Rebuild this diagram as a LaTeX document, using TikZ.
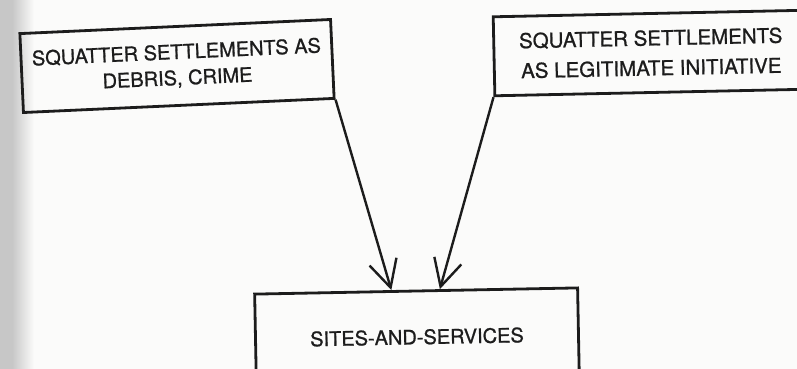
\documentclass[tikz,border=0pt]{standalone}
\usepackage{fontspec}
\setmainfont[FakeBold=0.9]{TeX Gyre Heros}
\usetikzlibrary{arrows.meta,calc}
\definecolor{ink}{HTML}{1C1C1C}
\definecolor{paper}{HTML}{FBFBFA}
\begin{document}
\begin{tikzpicture}[x=1pt,y=-1pt,
  box/.style={draw=ink, line width=2.8pt, text=ink, align=center, inner sep=0pt},
  conn/.style={draw=ink, line width=2.4pt, -{Straight Barb[length=27pt,width=28pt,line width=2.4pt]}}]
  % page and the grey gutter along its left edge
  \useasboundingbox (0,0) rectangle (797,369);
  \clip (0,0) rectangle (797,369);
  \fill[paper] (0,0) rectangle (797,369);
  \fill[black!22] (0,0) rectangle (12,369);
  \shade[left color=black!22, right color=paper] (12,0) rectangle (34,369);

  % the three boxes
  \node[box, rotate=2.6, minimum width=311pt, minimum height=79pt,
        font=\fontsize{20}{26}\selectfont] (debris) at (177,66)
        {SQUATTER SETTLEMENTS AS\\DEBRIS, CRIME};
  \node[box, rotate=1.2, minimum width=314pt, minimum height=79pt,
        font=\fontsize{20.5}{30}\selectfont] (legit) at (651,53)
        {SQUATTER SETTLEMENTS\\AS LEGITIMATE INITIATIVE};
  \node[box, rotate=1.1, minimum width=323pt, minimum height=92pt,
        font=\fontsize{20}{24}\selectfont] (sites) at (417,337)
        {SITES-AND-SERVICES};

  % both views lead to sites-and-services
  \coordinate (inL) at ($(sites.north west)!0.424!(sites.north east)$);
  \coordinate (inR) at ($(sites.north west)!0.573!(sites.north east)$);
  \draw[conn] (debris.south east) -- (inL);
  \draw[conn] (legit.south west) -- (inR);
\end{tikzpicture}
\end{document}
